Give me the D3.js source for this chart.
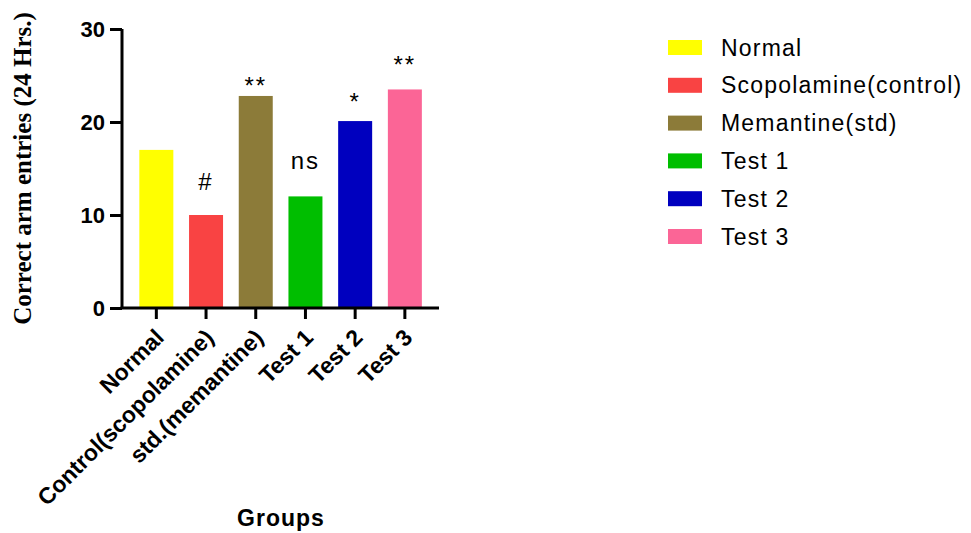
<!DOCTYPE html>
<html>
<head>
<meta charset="utf-8">
<script src="https://cdn.jsdelivr.net/npm/d3@7"></script>
<style>
  html, body { margin: 0; padding: 0; background: #fff; }
  svg { display: block; }
</style>
</head>
<body>
<script>
// Groups shown on the x axis, in order
const categories = ["Normal", "Control(scopolamine)", "std.(memantine)", "Test 1", "Test 2", "Test 3"];
// Legend names for the same groups
const legendNames = ["Normal", "Scopolamine(control)", "Memantine(std)", "Test 1", "Test 2", "Test 3"];
// Mean correct arm entries over 24 hrs
const values = [17, 10, 22.8, 12, 20.1, 23.5];
// Significance marks and the level (in axis units) at which each one sits
const sigLabels = ["", "#", "**", "ns", "*", "**"];
const sigLevels = [null, 12.7, 23.0, 15.0, 21.3, 25.3];
const yTicks = [0, 10, 20, 30];
const colors = ["#FFFF00", "#F94343", "#8C7B39", "#00BE00", "#0000BF", "#FB6596"];

const W = 971, H = 533;
const svg = d3.select("body").append("svg").attr("width", W).attr("height", H);

const sans = "Arial, 'Liberation Sans', sans-serif";
const axisX = 122, axisY = 308, axisTop = 29, axisRight = 439;

const y = d3.scaleLinear().domain([0, 30]).range([axisY, axisTop]);
const x = d3.scaleBand().domain(categories).range([129.4, 431.8])
  .paddingInner(0.316).paddingOuter(0.2);

// Bars
svg.append("g").selectAll("rect").data(categories).join("rect")
  .attr("x", d => x(d))
  .attr("y", (d, i) => y(values[i]))
  .attr("width", x.bandwidth())
  .attr("height", (d, i) => y(0) - y(values[i]))
  .attr("fill", (d, i) => colors[i]);

// Y axis
const yAxis = d3.axisLeft(y).tickValues(yTicks).tickSize(12).tickPadding(5);
const gy = svg.append("g").attr("transform", `translate(${axisX},0)`).call(yAxis);
gy.select(".domain").attr("stroke", "#000").attr("stroke-width", 3)
  .attr("d", `M0,${axisTop}V${axisY}`);
gy.selectAll(".tick line").attr("stroke", "#000").attr("stroke-width", 3);
gy.selectAll(".tick text").attr("fill", "#000")
  .style("font-family", sans)
  .style("font-weight", "bold").style("font-size", "22px");

// X axis
const xAxis = d3.axisBottom(x).tickSize(11).tickFormat("");
const gx = svg.append("g").attr("transform", `translate(0,${axisY})`).call(xAxis);
gx.select(".domain").attr("stroke", "#000").attr("stroke-width", 3)
  .attr("d", `M${axisX - 1.5},0H${axisRight}`);
gx.selectAll(".tick line").attr("stroke", "#000").attr("stroke-width", 3);

// Rotated category labels
svg.append("g").selectAll("text").data(categories).join("text")
  .attr("transform", d => `translate(${x(d) + x.bandwidth() / 2 + 9},${axisY + 31}) rotate(-45)`)
  .attr("text-anchor", "end")
  .style("font-family", sans)
  .style("font-weight", "bold").style("font-size", "23px")
  .text(d => d);

// Significance marks
svg.append("g").selectAll("text").data(categories).join("text")
  .filter((d, i) => sigLabels[i] !== "")
  .attr("x", d => x(d) + x.bandwidth() / 2)
  .attr("y", d => y(sigLevels[categories.indexOf(d)]))
  .attr("text-anchor", "middle")
  .style("font-family", sans)
  .style("font-size", "24px")
  .style("letter-spacing", "2px")
  .text(d => sigLabels[categories.indexOf(d)]);

// Axis titles
svg.append("text")
  .attr("transform", `translate(31,${(axisTop + axisY) / 2}) rotate(-90)`)
  .attr("text-anchor", "middle")
  .style("font-family", "'Times New Roman', 'Liberation Serif', serif")
  .style("font-weight", "bold").style("font-size", "25px")
  .text("Correct arm entries (24 Hrs.)");

svg.append("text")
  .attr("x", 281).attr("y", 526)
  .attr("text-anchor", "middle")
  .style("font-family", sans)
  .style("font-weight", "bold").style("font-size", "23px")
  .style("letter-spacing", "1px")
  .text("Groups");

// Legend
const legend = svg.append("g").attr("transform", "translate(668,47.5)");
const rows = legend.selectAll("g").data(legendNames).join("g")
  .attr("transform", (d, i) => `translate(0,${i * 37.8})`);
rows.append("rect").attr("x", 0).attr("y", -7.5).attr("width", 34).attr("height", 15)
  .attr("fill", (d, i) => colors[i]);
rows.append("text").attr("x", 53).attr("y", 8)
  .style("font-family", sans)
  .style("font-size", "23px")
  .style("letter-spacing", "1.2px")
  .text(d => d);
</script>
</body>
</html>
